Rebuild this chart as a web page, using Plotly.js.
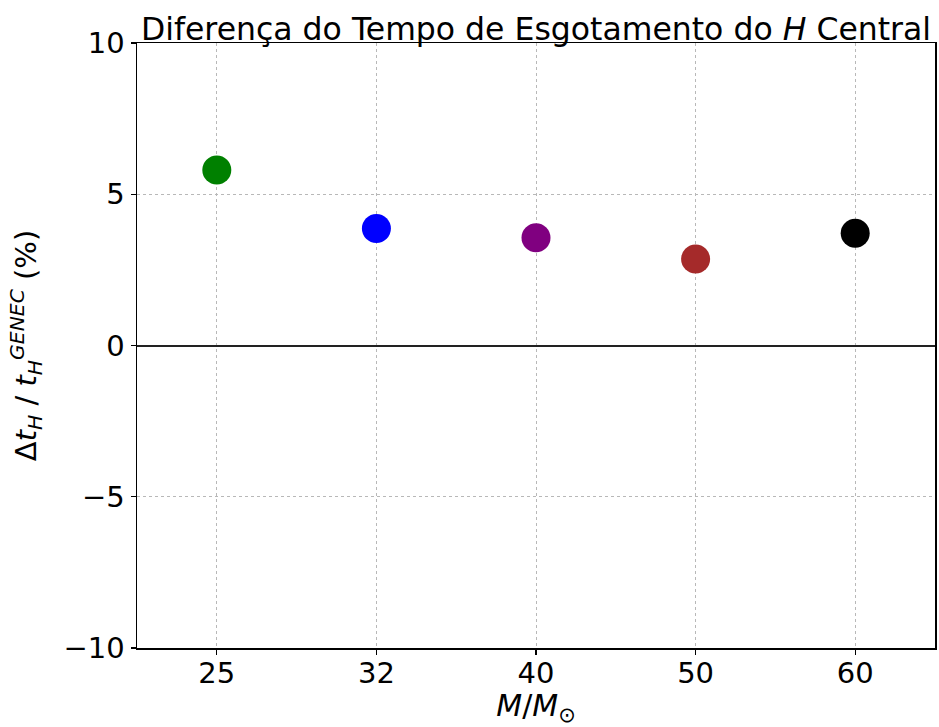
<!DOCTYPE html>
<html>
<head>
<meta charset="utf-8">
<script src="https://cdn.plot.ly/plotly-3.0.1.min.js"></script>
<style>html,body{margin:0;padding:0;background:#fff;}#chart{width:939px;height:727px;}</style>
</head>
<body>
<div id="chart"></div>
<script>
const masses = ["25", "32", "40", "50", "60"];
const diffPercent = [5.80, 3.87, 3.56, 2.86, 3.71];
const pointColors = ["#008000", "#0000ff", "#800080", "#a52a2a", "#000000"];

const trace = {
  x: masses,
  y: diffPercent,
  type: "scatter",
  mode: "markers",
  marker: {size: 29, color: pointColors, line: {width: 0}},
  cliponaxis: false,
  hoverinfo: "none"
};

const font = {family: "DejaVu Sans, sans-serif", color: "#000"};
const layout = {
  width: 939, height: 727,
  margin: {l: 137, r: 4, t: 43, b: 79},
  paper_bgcolor: "#fff", plot_bgcolor: "#fff",
  showlegend: false,
  font: font,
  title: {
    text: "Diferença do Tempo de Esgotamento do <i>H</i> Central",
    font: {family: font.family, size: 31.5, color: "#000"},
    xref: "paper", x: 0.5, xanchor: "center",
    yref: "paper", y: 1, yanchor: "bottom", pad: {b: 3}
  },
  xaxis: {
    type: "category",
    range: [-0.5, 4.5],
    showline: true, mirror: true, linecolor: "#000", linewidth: 1.5,
    ticks: "outside", ticklen: 5, tickwidth: 1.2, tickcolor: "#000",
    ticklabelstandoff: -6,
    tickfont: {family: font.family, size: 29, color: "#000"},
    showgrid: true, gridcolor: "#b8b8b8", griddash: "dot", gridwidth: 1,
    zeroline: false,
    title: {text: "<i>M</i>/<i>M</i><sub>⊙</sub>", font: {family: font.family, size: 30, color: "#000"}, standoff: 4}
  },
  yaxis: {
    range: [-10, 10],
    tickvals: [-10, -5, 0, 5, 10],
    ticktext: ["\u221210", "\u22125", "0", "5", "10"],
    showline: true, mirror: true, linecolor: "#000", linewidth: 1.5,
    ticks: "outside", ticklen: 5, tickwidth: 1.2, tickcolor: "#000",
    tickfont: {family: font.family, size: 29, color: "#000"},
    showgrid: true, gridcolor: "#b8b8b8", griddash: "dot", gridwidth: 1,
    zeroline: true, zerolinecolor: "#222", zerolinewidth: 2,
    title: {text: "Δ<i>t</i><sub><i>H</i></sub> / <i>t</i><sub><i>H</i></sub><sup><i>GENEC</i></sup> (%)", font: {family: font.family, size: 29, color: "#000"}, standoff: 18}
  }
};

Plotly.newPlot("chart", [trace], layout, {displayModeBar: false, staticPlot: true});
</script>
</body>
</html>
